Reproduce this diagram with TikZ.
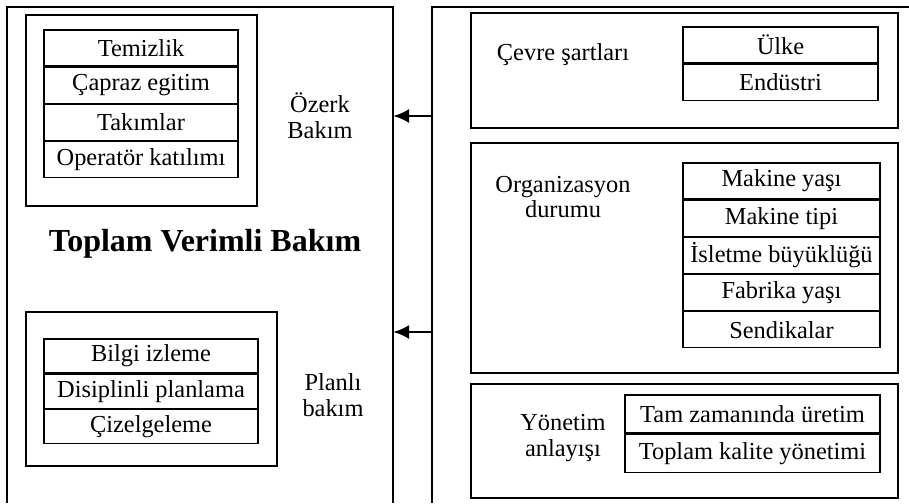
\documentclass[tikz,border=0pt]{standalone}
\usepackage{fontspec}
\setmainfont{Liberation Serif}
\usetikzlibrary{positioning,arrows.meta}
\def\RowH{18pt}
\def\LineW{0.6pt}
\tikzset{
	cell/.style={draw,line width=\LineW,minimum height=\RowH,inner sep=0pt},
	frame/.style={draw,line width=\LineW,inner sep=0pt},
	caption/.style={align=center,font=\fontsize{12.2}{12.8}\selectfont},
	link/.style={-{Latex[length=8pt,width=7pt]},line width=1.3pt}
}

\begin{document}
\begin{tikzpicture}[x=0.5pt,y=-0.5pt,font=\fontsize{12.2}{14.5}\selectfont]
			\useasboundingbox (0,0) rectangle (909,503);
			% outer frames, open at the bottom
			\draw[line width=\LineW] (7,503) -- (7,7) -- (393,7) -- (393,503);
			\draw[line width=\LineW] (432,503) -- (432,7) -- (909,7);
			\node[font=\fontsize{16}{19}\selectfont\bfseries] (tvb) at (205,244) {Toplam Verimli Bakım};
			% left side
			\node[frame,minimum width=115.5pt,minimum height=95.5pt] (ozerkbox) at (141.5,110.5) {};
			\node[cell,minimum width=97pt] (oz1) at (141,48) {Temizlik};
			\node[cell,minimum width=97pt,below=0pt of oz1] (oz2) {Çapraz egitim};
			\node[cell,minimum width=97pt,below=0pt of oz2] (oz3) {Takımlar};
			\node[cell,minimum width=97pt,below=0pt of oz3] (oz4) {Operatör katılımı};
			\node[caption] (ozerk) at (320,116) {Özerk\\Bakım};
			\node[frame,minimum width=125.5pt,minimum height=77pt] (planbox) at (151.5,389) {};
			\node[cell,minimum width=107pt,minimum height=17pt] (pl1) at (151,356) {Bilgi izleme};
			\node[cell,minimum width=107pt,minimum height=17pt,below=0pt of pl1] (pl2) {Disiplinli planlama};
			\node[cell,minimum width=107pt,minimum height=17pt,below=0pt of pl2] (pl3) {Çizelgeleme};
			\node[caption] (planli) at (333,395) {Planlı\\bakım};
			% right side
			\node[frame,minimum width=213.5pt,minimum height=57.5pt] (cevrebox) at (684.5,70.5) {};
			\node[caption] (cevre) at (563,55) {Çevre şartları};
			\node[cell,minimum width=97.5pt] (cv1) at (780.5,45) {Ülke};
			\node[cell,minimum width=97.5pt,below=0pt of cv1] (cv2) {Endüstri};
			\node[frame,minimum width=213.5pt,minimum height=115pt] (orgbox) at (684.5,258) {};
			\node[caption] (org) at (563,197) {Organizasyon\\durumu};
			\node[cell,minimum width=98.5pt] (og1) at (781.5,181) {Makine yaşı};
			\node[cell,minimum width=98.5pt,below=0pt of og1] (og2) {Makine tipi};
			\node[cell,minimum width=98.5pt,below=0pt of og2] (og3) {İsletme büyüklüğü};
			\node[cell,minimum width=98.5pt,below=0pt of og3] (og4) {Fabrika yaşı};
			\node[cell,minimum width=98.5pt,below=0pt of og4] (og5) {Sendikalar};
			\node[frame,minimum width=213.5pt,minimum height=57pt] (yonbox) at (684.5,441) {};
			\node[caption] (yon) at (563,438) {Yönetim\\anlayışı};
			\node[cell,minimum width=127.5pt,minimum height=19pt] (yn1) at (752.5,414) {Tam zamanında üretim};
			\node[cell,minimum width=127.5pt,minimum height=19pt,below=0pt of yn1] (yn2) {Toplam kalite yönetimi};
			% arrows between the two frames
			\coordinate (srcA) at (432,116);
			\coordinate (dstA) at (393,116);
			\coordinate (srcB) at (432,332);
			\coordinate (dstB) at (393,332);
			\draw[link] (srcA) -- (dstA);
			\draw[link] (srcB) -- (dstB);
		\end{tikzpicture}
\end{document}
